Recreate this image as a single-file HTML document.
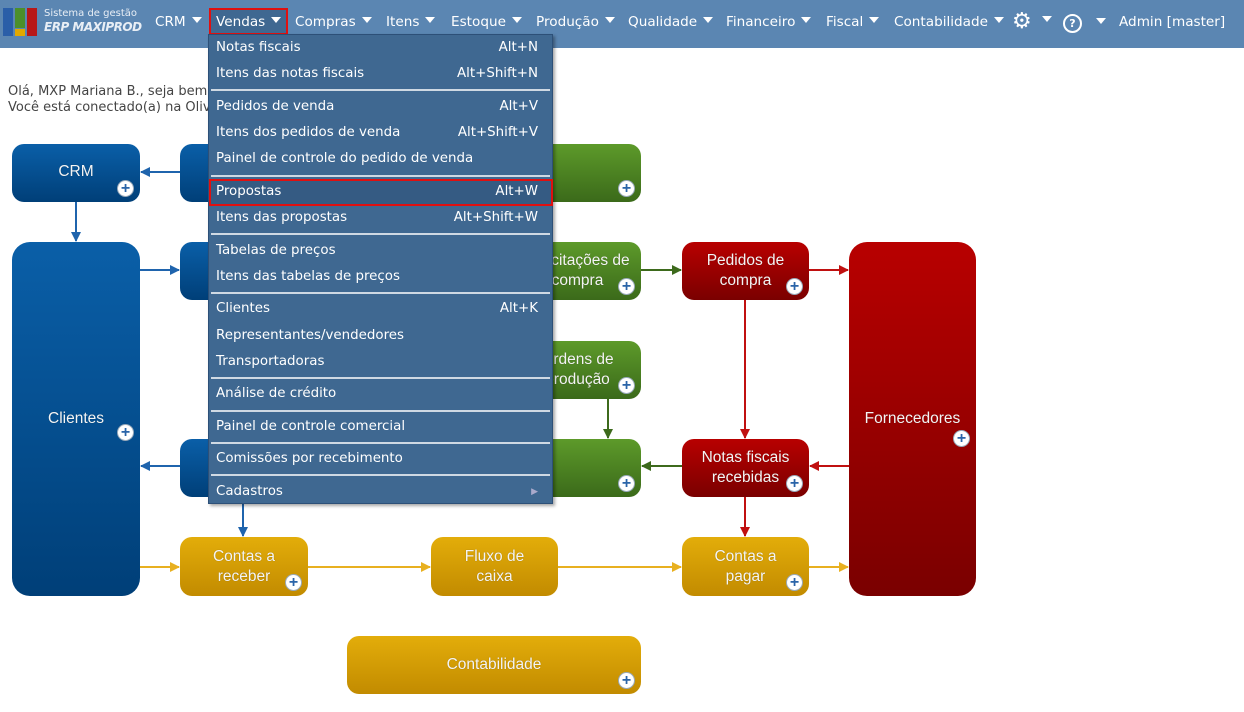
<!DOCTYPE html>
<html><head><meta charset="utf-8"><style>
*{margin:0;padding:0;box-sizing:border-box}
body{width:1244px;height:712px;background:#fff;position:relative;overflow:hidden;font-family:"DejaVu Sans","Liberation Sans",sans-serif}
#hdr{position:absolute;left:0;top:0;width:1244px;height:48px;background:#5b86b2}
.nav{position:absolute;top:14px;color:#fff;font-size:13.6px;white-space:nowrap}
.tri{display:inline-block;width:0;height:0;border-left:5px solid transparent;border-right:5px solid transparent;border-top:6px solid #fff;margin-left:6px;vertical-align:3px}
.n{position:absolute;border-radius:12px;color:#f4f4f4;font-family:"Liberation Sans",sans-serif;font-size:15.5px;text-align:center;display:flex;align-items:center;justify-content:center;line-height:20px;text-shadow:0 0 1px rgba(0,0,0,.3)}
.b{background:linear-gradient(#0a5fa8,#003f78)}
.g{background:linear-gradient(#5d9a2a,#3b6a1a)}
.r{background:linear-gradient(#b80000,#7a0000)}
.y{background:linear-gradient(#e3ad0a,#c28b00)}
.p{position:absolute;right:6px;bottom:5px;width:17px;height:17px;border-radius:50%;background:#fff;border:1px solid #9ab;color:#2a64a8;font:bold 16px/15px "Liberation Sans",sans-serif;text-align:center;text-shadow:none}
#menu{position:absolute;left:208px;top:34px;width:345px;height:470px;background:#3f6891;border:1px solid #2d5078;box-shadow:2px 2px 3px rgba(0,0,0,.35)}
.mi{position:absolute;left:7px;right:14px;color:#fff;font-size:13.4px;height:20px;line-height:20px}
.mi span{float:right}
.sep{position:absolute;left:2px;right:2px;height:2px;background:#cfd9e3}
</style></head><body>
<div id="hdr"></div>
<div style="position:absolute;left:3px;top:8px;width:10px;height:28px;background:#2a5ea8"></div>
<div style="position:absolute;left:15px;top:8px;width:10px;height:20px;background:#4c8f2a"></div>
<div style="position:absolute;left:15px;top:29px;width:10px;height:7px;background:#e2a800"></div>
<div style="position:absolute;left:27px;top:8px;width:10px;height:28px;background:#b81818"></div>
<div style="position:absolute;left:44px;top:8px;color:#e8eef5;font-size:10px;font-family:'DejaVu Sans',sans-serif">Sistema de gestão</div>
<div style="position:absolute;left:44px;top:20px;color:#e8eef5;font-size:12px;font-style:italic;font-weight:bold;font-family:'DejaVu Sans',sans-serif;letter-spacing:-0.5px">ERP MAXIPROD</div>
<div class="nav" style="left:155px">CRM<i class="tri"></i></div>
<div style="position:absolute;left:209px;top:8px;width:79px;height:27px;background:#3f6891;border:2px solid #e01010"></div>
<div class="nav" style="left:216px">Vendas<i class="tri"></i></div>
<div class="nav" style="left:295px">Compras<i class="tri"></i></div>
<div class="nav" style="left:386px">Itens<i class="tri"></i></div>
<div class="nav" style="left:451px">Estoque<i class="tri"></i></div>
<div class="nav" style="left:536px">Produção<i class="tri"></i></div>
<div class="nav" style="left:628px">Qualidade<i class="tri"></i></div>
<div class="nav" style="left:726px">Financeiro<i class="tri"></i></div>
<div class="nav" style="left:826px">Fiscal<i class="tri"></i></div>
<div class="nav" style="left:894px">Contabilidade<i class="tri"></i></div>
<div class="nav" style="left:1012px;top:9px;font-size:22px">⚙<i class="tri" style="margin-left:10px;vertical-align:6px"></i></div>
<div class="nav" style="left:1063px;top:14px"><span style="display:inline-block;width:19px;height:19px;border:2px solid #fff;border-radius:50%;text-align:center;font-size:11px;line-height:15px;font-weight:bold">?</span><i class="tri" style="margin-left:14px"></i></div>
<div class="nav" style="left:1119px">Admin [master]</div>

<div style="position:absolute;left:8px;top:84px;color:#444;font-size:13px;line-height:16px">Olá, MXP Mariana B., seja bem-vindo(a)<br>Você está conectado(a) na Oliveira</div>

<svg style="position:absolute;left:0;top:0" width="1244" height="712">
<defs>
<marker id="ab" markerWidth="10" markerHeight="10" refX="9" refY="5" orient="auto" markerUnits="userSpaceOnUse"><path d="M0,0L10,5L0,10z" fill="#1f64ad"/></marker>
<marker id="ag" markerWidth="10" markerHeight="10" refX="9" refY="5" orient="auto" markerUnits="userSpaceOnUse"><path d="M0,0L10,5L0,10z" fill="#3d6a1c"/></marker>
<marker id="ar" markerWidth="10" markerHeight="10" refX="9" refY="5" orient="auto" markerUnits="userSpaceOnUse"><path d="M0,0L10,5L0,10z" fill="#c01010"/></marker>
<marker id="ay" markerWidth="10" markerHeight="10" refX="9" refY="5" orient="auto" markerUnits="userSpaceOnUse"><path d="M0,0L10,5L0,10z" fill="#e8b020"/></marker>
</defs>
<g stroke-width="2" fill="none">
<path d="M180 172H141" stroke="#1f64ad" marker-end="url(#ab)"/>
<path d="M76 202V241" stroke="#1f64ad" marker-end="url(#ab)"/>
<path d="M140 270H179" stroke="#1f64ad" marker-end="url(#ab)"/>
<path d="M180 466H141" stroke="#1f64ad" marker-end="url(#ab)"/>
<path d="M243 497V536" stroke="#1f64ad" marker-end="url(#ab)"/>
<path d="M641 270H681" stroke="#3d6a1c" marker-end="url(#ag)"/>
<path d="M608 399V438" stroke="#3d6a1c" marker-end="url(#ag)"/>
<path d="M682 466H642" stroke="#3d6a1c" marker-end="url(#ag)"/>
<path d="M809 270H848" stroke="#c01010" marker-end="url(#ar)"/>
<path d="M745 300V438" stroke="#c01010" marker-end="url(#ar)"/>
<path d="M849 466H810" stroke="#c01010" marker-end="url(#ar)"/>
<path d="M745 497V536" stroke="#c01010" marker-end="url(#ar)"/>
<path d="M140 567H179" stroke="#e8b020" marker-end="url(#ay)"/>
<path d="M308 567H430" stroke="#e8b020" marker-end="url(#ay)"/>
<path d="M558 567H681" stroke="#e8b020" marker-end="url(#ay)"/>
<path d="M809 567H848" stroke="#e8b020" marker-end="url(#ay)"/>
</g></svg>

<div class="n b" style="left:12px;top:144px;width:128px;height:58px;padding-bottom:2px">CRM<i class="p">+</i></div>
<div class="n b" style="left:180px;top:144px;width:128px;height:58px"></div>
<div class="n g" style="left:431px;top:144px;width:210px;height:58px"><i class="p">+</i></div>
<div class="n b" style="left:12px;top:242px;width:128px;height:354px;border-radius:18px">Clientes<i class="p" style="bottom:155px">+</i></div>
<div class="n b" style="left:180px;top:242px;width:128px;height:58px"></div>
<div class="n g" style="left:514px;top:242px;width:127px;height:58px">Solicitações de<br>compra<i class="p">+</i></div>
<div class="n r" style="left:682px;top:242px;width:127px;height:58px">Pedidos de<br>compra<i class="p">+</i></div>
<div class="n r" style="left:849px;top:242px;width:127px;height:354px;border-radius:18px">Fornecedores<i class="p" style="bottom:149px">+</i></div>
<div class="n g" style="left:514px;top:341px;width:127px;height:58px">Ordens de<br>produção<i class="p">+</i></div>
<div class="n b" style="left:180px;top:439px;width:128px;height:58px"></div>
<div class="n g" style="left:514px;top:439px;width:127px;height:58px"><i class="p">+</i></div>
<div class="n r" style="left:682px;top:439px;width:127px;height:58px">Notas fiscais<br>recebidas<i class="p">+</i></div>
<div class="n y" style="left:180px;top:537px;width:128px;height:59px">Contas a<br>receber<i class="p">+</i></div>
<div class="n y" style="left:431px;top:537px;width:127px;height:59px">Fluxo de<br>caixa</div>
<div class="n y" style="left:682px;top:537px;width:127px;height:59px">Contas a<br>pagar<i class="p">+</i></div>
<div class="n y" style="left:347px;top:636px;width:294px;height:58px">Contabilidade<i class="p">+</i></div>

<div id="menu">
<div class="mi" style="top:3px">Notas fiscais<span>Alt+N</span></div>
<div class="mi" style="top:29px">Itens das notas fiscais<span>Alt+Shift+N</span></div>
<div class="sep" style="top:54px"></div>
<div class="mi" style="top:62px">Pedidos de venda<span>Alt+V</span></div>
<div class="mi" style="top:88px">Itens dos pedidos de venda<span>Alt+Shift+V</span></div>
<div class="mi" style="top:114px">Painel de controle do pedido de venda</div>
<div class="sep" style="top:140px"></div>
<div style="position:absolute;left:0;top:144px;width:344px;height:27px;border:2px solid #e01010;background:#355b83"></div>
<div class="mi" style="top:147px">Propostas<span>Alt+W</span></div>
<div class="mi" style="top:173px">Itens das propostas<span>Alt+Shift+W</span></div>
<div class="sep" style="top:198px"></div>
<div class="mi" style="top:206px">Tabelas de preços</div>
<div class="mi" style="top:232px">Itens das tabelas de preços</div>
<div class="sep" style="top:257px"></div>
<div class="mi" style="top:264px">Clientes<span>Alt+K</span></div>
<div class="mi" style="top:291px">Representantes/vendedores</div>
<div class="mi" style="top:317px">Transportadoras</div>
<div class="sep" style="top:342px"></div>
<div class="mi" style="top:349px">Análise de crédito</div>
<div class="sep" style="top:375px"></div>
<div class="mi" style="top:382px">Painel de controle comercial</div>
<div class="sep" style="top:407px"></div>
<div class="mi" style="top:414px">Comissões por recebimento</div>
<div class="sep" style="top:439px"></div>
<div class="mi" style="top:447px">Cadastros<span style="font-size:9px;color:#aac">▶</span></div>
</div>
</body></html>
